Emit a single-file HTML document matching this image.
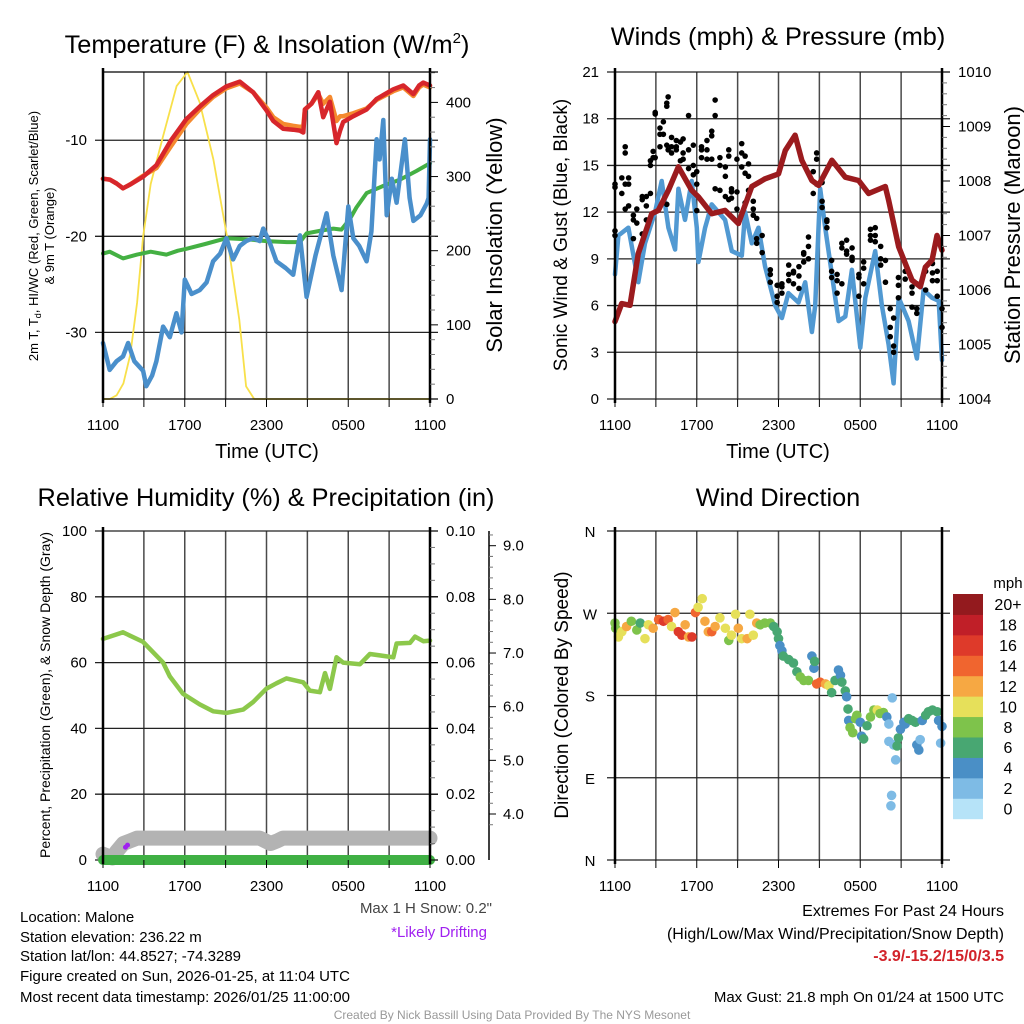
<!DOCTYPE html>
<html><head><meta charset="utf-8"><style>
html,body{margin:0;padding:0;background:#fff;}
svg{display:block;font-family:"Liberation Sans",Arial,sans-serif;}
</style></head><body>
<svg id="fig" width="1024" height="1024" viewBox="0 0 1024 1024" xmlns="http://www.w3.org/2000/svg">
<rect width="1024" height="1024" fill="#fff"/>
<g id="layer-grid"></g>
<g id="layer-data"></g>
<g id="layer-axes"></g>
<!-- Titles -->
<text x="267" y="53" font-size="25.3" text-anchor="middle">Temperature (F) &amp; Insolation (W/m<tspan font-size="15" dy="-10">2</tspan><tspan dy="10">)</tspan></text>
<text x="778" y="45" font-size="25.3" text-anchor="middle">Winds (mph) &amp; Pressure (mb)</text>
<text x="266" y="506" font-size="25.3" text-anchor="middle">Relative Humidity (%) &amp; Precipitation (in)</text>
<text x="778" y="506" font-size="25.3" text-anchor="middle">Wind Direction</text>
<!-- axis titles -->
<text x="267" y="458" font-size="20" text-anchor="middle">Time (UTC)</text>
<text x="778" y="458" font-size="20" text-anchor="middle">Time (UTC)</text>
<text transform="translate(38,236) rotate(-90)" font-size="13" text-anchor="middle">2m T, T<tspan font-size="9" dy="3">d</tspan><tspan dy="-3">, HI/WC (Red, Green, Scarlet/Blue)</tspan></text>
<text transform="translate(54,236) rotate(-90)" font-size="13" text-anchor="middle">&amp; 9m T (Orange)</text>
<text transform="translate(502,235) rotate(-90)" font-size="22" text-anchor="middle">Solar Insolation (Yellow)</text>
<text transform="translate(567,235) rotate(-90)" font-size="19" text-anchor="middle">Sonic Wind &amp; Gust (Blue, Black)</text>
<text transform="translate(1020,235) rotate(-90)" font-size="22" text-anchor="middle">Station Pressure (Maroon)</text>
<text transform="translate(50,695) rotate(-90)" font-size="14" text-anchor="middle">Percent, Precipitation (Green), &amp; Snow Depth (Gray)</text>
<text transform="translate(568,695) rotate(-90)" font-size="19" text-anchor="middle">Direction (Colored By Speed)</text>
<!-- notes -->
<text x="492" y="913" font-size="15" fill="#444" text-anchor="end">Max 1 H Snow: 0.2"</text>
<text x="487" y="937" font-size="15" fill="#a020f0" text-anchor="end">*Likely Drifting</text>
<g font-size="15">
<text x="20" y="922">Location: Malone</text>
<text x="20" y="942">Station elevation: 236.22 m</text>
<text x="20" y="961">Station lat/lon: 44.8527; -74.3289</text>
<text x="20" y="981">Figure created on Sun, 2026-01-25, at 11:04 UTC</text>
<text x="20" y="1002">Most recent data timestamp: 2026/01/25 11:00:00</text>
</g>
<g font-size="16" text-anchor="end">
<text x="1004" y="916">Extremes For Past 24 Hours</text>
<text x="1004" y="939">(High/Low/Max Wind/Precipitation/Snow Depth)</text>
<text x="1004" y="961" fill="#d2232a" font-weight="bold">-3.9/-15.2/15/0/3.5</text>
<text x="1004" y="1002" font-size="15">Max Gust: 21.8 mph On 01/24 at 1500 UTC</text>
</g>
<text x="512" y="1019" font-size="12" fill="#999" text-anchor="middle">Created By Nick Bassill Using Data Provided By The NYS Mesonet</text>
</svg>
<script>
// ---------- DATA ----------
const tickHourLabels = ["1100","1700","2300","0500","1100"];
// Temperature panel
const tempHours = [0,0.5,1.0,1.47,2.0,2.94,3.92,5.0,6.12,7.1,8.08,9.06,10.04,11.02,12.0,12.5,13.22,13.96,14.45,14.7,14.82,15.3,15.8,16.16,16.65,17.14,17.4,17.63,18.37,19.35,20.08,21.31,22.04,22.78,23.2,23.5,24];
const temp2m = [-14.0,-14.1,-14.5,-15.0,-14.6,-13.8,-12.6,-10.0,-7.8,-6.5,-5.3,-4.4,-3.9,-5.0,-6.9,-8.0,-8.8,-8.9,-9.0,-9.2,-6.8,-6.2,-5.0,-7.6,-6.0,-10.3,-9.0,-8.1,-7.5,-6.8,-5.7,-4.7,-4.3,-5.2,-4.3,-4.0,-4.3];
const temp9m = [-14.0,-14.1,-14.5,-15.0,-14.6,-13.7,-12.9,-10.6,-8.3,-6.8,-5.5,-4.6,-4.1,-5.0,-6.6,-7.6,-8.3,-8.5,-8.6,-8.5,-6.8,-6.2,-5.2,-6.2,-5.5,-8.0,-7.5,-7.5,-7.2,-6.7,-5.8,-4.9,-4.5,-5.4,-4.5,-4.2,-4.5];
const dewHours = [0,0.49,1.47,2.5,3.5,4.65,5.5,6.12,7.5,9.06,10.5,12.0,13.5,14.45,14.94,16.0,16.9,17.5,18.12,18.6,19.35,20.5,21.8,23.0,24];
const dewPoint = [-21.8,-21.6,-22.3,-21.9,-21.6,-21.9,-21.5,-21.3,-20.8,-20.2,-20.3,-20.5,-20.6,-20.6,-19.7,-19.4,-19.2,-19.3,-18.2,-17.0,-15.5,-14.8,-14.1,-13.2,-12.4];
const wcHours = [0,0.49,1.0,1.47,1.84,2.3,2.94,3.18,3.6,3.92,4.41,4.9,5.39,5.76,6.0,6.5,7.1,7.6,8.08,8.6,9.06,9.55,10.04,10.5,11.02,11.5,11.76,12.2,12.73,13.4,13.96,14.45,14.94,15.6,16.41,16.9,17.51,18.0,18.37,18.8,19.35,19.7,20.08,20.3,20.57,20.82,21.2,21.55,22.16,22.5,22.78,23.3,23.76,23.9,24];
const windChill = [-31.1,-33.9,-33.0,-32.5,-31.1,-33.0,-34.0,-35.6,-34.5,-33.0,-29.4,-30.5,-28.0,-30.0,-24.5,-26.0,-25.6,-24.8,-22.6,-21.8,-20.2,-22.4,-21.0,-20.5,-20.2,-20.5,-19.2,-20.5,-22.6,-23.3,-24.0,-19.9,-26.3,-22.0,-17.6,-22.0,-25.6,-16.9,-20.2,-21.0,-22.6,-19.5,-9.9,-12.0,-7.9,-17.8,-14.0,-16.5,-9.9,-16.0,-18.4,-17.8,-16.6,-16.0,-9.9];
const solarHours = [0,0.5,1.0,1.5,2.0,2.5,2.94,3.5,4.4,5.4,6.2,7.1,8.1,9.1,10.0,10.5,11.1,24];
const solar = [0,0,5,21,60,130,219,290,354,422,441,400,323,219,107,17,0,0];
const tempTicks = [-10,-20,-30];
const solarTicks = [0,100,200,300,400];
// Wind panel
const windHours = [0,0.25,0.98,1.71,2.2,2.94,3.43,3.92,4.41,4.65,5.14,5.63,6.0,6.12,6.61,7.1,8.08,8.57,9.31,9.55,10.04,10.53,11.02,11.76,12.25,12.73,13.47,13.96,14.45,14.69,15.06,15.43,15.92,16.41,16.9,17.39,18.0,18.37,19.1,19.59,20.08,20.45,20.82,21.55,22.16,22.65,23.27,23.76,24];
const windSpeed = [8,10.5,11,7.5,10,12,14,11,9.6,13.5,11.5,14,11,8.8,11,12.5,11.5,9.5,9.2,12,10,11,8.5,6.0,5.2,6.8,6.2,7.5,4.3,6,13.5,11,8,5,5.3,8.3,3.3,6.5,9.5,6,3.5,1,6.5,5,2.6,7,6.5,6.3,2.5];
const gustHours = [0,0.5,0.75,1.0,1.35,1.6,2.0,2.3,2.6,2.8,2.95,3.3,3.55,3.8,3.9,4.15,4.5,4.8,5.0,5.4,5.75,6.0,6.35,6.75,7.1,7.35,7.7,8.1,8.35,8.55,8.95,9.3,9.55,9.8,10.15,10.4,10.8,11.4,11.9,12.25,12.75,13.1,13.5,13.85,14.2,14.55,14.8,15.2,15.55,15.9,16.3,16.65,17.0,17.4,17.9,18.25,18.75,19.1,19.5,19.85,20.2,20.45,20.8,21.3,21.8,22.15,22.8,23.3,23.65,24.0];
const gustValues = [[10.5,10.8,13.8,13.6],[14.2,13.2],[16.2,15.8,13.8,12.2],[14.2,13.8,12.4],[11.8,11.5,10.3],[11.3,12.2],[10.6,12.8,13.0],[12.4,13.0,11.5],[15.0,13.2,15.3],[15.9,15.5],[18.3,18.4,15.5],[17.4,17.0,16.2],[17.8,17.0],[19.0,18.8,16.3,12.5],[19.4,16.0],[15.8,16.8,16.2],[16.6,16.2,16.0],[15.3,16.5],[15.4,16.7,15.8],[18.2,14.8,16.0],[16.3,15.0,14.4],[12.1,14.6,13.8],[16.2,15.5,16.0],[16.6,15.4,16.0],[16.9,17.2,15.4],[19.2,18.2,13.5],[15.0,15.5,13.4],[14.9,14.3,13.0],[15.6,16.0,12.8],[13.5,12.9,13.3],[13.3,15.4,12.2],[16.4,15.8,14.9],[15.6,12.6,14.5],[15.1,14.3,13.4],[12.7,11.8,12.2],[10.3,11.6,10.0],[9.4,10.5],[8.3,7.5,8.0],[7.3,6.6,6.2],[7.4,6.8,7.2],[8.6,8.0,7.6],[8.1,7.4,8.2],[7.9,7.1,8.5],[9.4,8.8,9.3],[9.8,9.0,10.4],[14.6,13.2],[15.4,15.8,13.8],[13.9,12.7,12.3],[11.4,11.0,11.5],[8.9,8.2,7.8],[7.6,8.0,6.8],[10.0,9.7,7.4],[9.3,9.5,10.2],[9.7,9.1,8.9],[8.0,7.8,6.6],[8.4,7.4,8.8],[10.9,10.5,10.2],[11.0,10.5,10.1],[9.8,8.6,9.0],[7.5,8.9],[5.8,4.6,4.0],[3.4,3.0,5.2],[7.3,7.8,6.5],[8.2,7.7],[6.8,5.9,7.2],[5.8,5.5,7.4],[7.0,8.2],[8.1,8.7,7.6],[8.2,7.6,6.6],[5.8,4.6]];
const presHours = [0,0.49,1.1,1.71,2.69,3.18,3.92,4.65,5.63,6.12,7.1,8.08,9.06,10.04,11.02,12.0,12.5,13.22,13.71,14.45,14.94,15.92,16.9,17.88,18.61,19.84,20.08,20.82,21.8,22.41,22.78,23.27,23.63,24];
const pressure = [1005.42,1005.75,1005.72,1006.67,1007.4,1007.46,1007.83,1008.26,1007.83,1007.71,1007.4,1007.46,1007.22,1007.9,1008.04,1008.13,1008.56,1008.84,1008.38,1008.01,1007.92,1008.38,1008.07,1008.01,1007.77,1007.9,1007.65,1006.79,1006.18,1006.06,1006.42,1006.55,1007.0,1006.73];
const windTicks = [0,3,6,9,12,15,18,21];
const presTicks = [1004,1005,1006,1007,1008,1009,1010];
// Humidity panel
const rhHours = [0,1.47,2.94,4.41,4.9,5.88,7.1,8.08,9.06,10.29,11.02,12,12.73,13.47,14.69,15.18,15.92,16.29,16.65,17.14,17.63,18.86,19.59,21.31,21.55,22.53,22.9,23.51,24];
const rh = [67.2,69.2,66.3,60,55.8,50.5,47.3,45.2,44.7,45.7,48,52.1,53.7,55.2,54,51.5,51,56.8,52,61.6,60,59.5,62.6,61.6,65.8,66,67.9,66.5,66.7];
const snowHours = [0,0.7,1.0,1.5,2.0,2.5,3.0,11.5,12.3,12.8,13.2,24];
const snowDepth = [3.25,3.18,3.3,3.45,3.5,3.55,3.55,3.55,3.45,3.5,3.55,3.55];
const precipHours = [0,24];
const precip = [0,0];
const driftHours = [1.65,1.8];
const driftDepth = [3.38,3.42];
const rhTicks = [0,20,40,60,80,100];
const precipTicks = ["0.00","0.02","0.04","0.06","0.08","0.10"];
const snowTicks = [4,5,6,7,8,9];
// Wind direction panel
const dirHours = [0,0.05,0.25,0.5,0.85,1.2,1.6,1.85,2.2,2.45,2.8,3.2,3.55,3.9,4.15,4.4,4.65,4.9,5.15,5.4,5.65,5.9,6.1,6.4,6.6,6.85,7.1,7.35,7.7,8.1,8.35,8.55,8.85,9.05,9.3,9.7,9.9,10.15,10.4,10.65,11.0,11.4,11.65,11.9,12.0,12.1,12.25,12.35,12.75,13.1,13.35,13.6,13.85,14.2,14.45,14.6,14.65,14.8,15.05,15.45,15.7,15.9,16.15,16.4,16.55,16.65,16.9,17.0,17.1,17.15,17.25,17.45,17.65,17.75,18.0,18.1,18.25,18.5,18.75,19.0,19.25,19.45,19.7,19.95,20.1,20.1,20.35,20.45,20.6,20.7,20.8,20.95,21.2,21.3,21.55,21.8,22.05,22.15,22.3,22.4,22.55,22.8,23.0,23.3,23.65,23.75,24,23.9,20.3,20.25];
const dirDeg = [259.3,253.6,244.1,249.8,255.5,261.2,251.7,259.3,242.2,257.4,253.6,263.1,261.2,263.1,255.5,270.8,249.8,246,257.4,244.1,244.1,270.8,276.5,286,261.2,249.8,249.8,255.5,265,253.6,240.3,246,268.9,253.6,242.2,242.2,268.9,246,259.3,257.4,259.3,259.3,255.5,249.8,242.2,234.6,228.9,223.1,219.3,215.5,206,200.3,196.5,196.5,223.1,209.8,217.4,192.7,194.6,192.7,190.8,183.1,196.5,207.9,202.2,194.6,185,178.6,165.2,152.7,145,139.3,154.6,158.4,150.7,135.5,132.5,146.9,156.5,164.1,164.1,160.3,161.4,156.5,148.8,129.8,177.4,126,109.6,124.8,133.6,143.1,150.7,148.8,154.6,152.7,150.7,126,120.3,131.7,152.7,158.4,162.2,164.1,162.2,152.7,146.2,127.9,70.7,59.3];
const dirSpeed = [7,8,10,9,12,7,7,6,10,9,12,14,15,14,10,12,15,15,12,11,15,13,9,10,12,12,13,11,10,10,8,10,10,11,10,12,10,10,12,7,7,8,6,6,6,4,4,6,6,6,6,8,8,8,4,4,6,13,13,12,10,6,6,4,4,6,6,4,6,4,8,8,8,8,4,3,6,6,8,8,10,8,8,4,2,2,1,2,2,6,6,4,4,4,6,6,6,3,3,2,4,6,6,6,6,4,4,2,2,2];
const dirTickLabels = ["N","E","S","W","N"];
const speedBins = ["0","2","4","6","8","10","12","14","16","18","20+"];
const binColors = ["#b6e3f8","#7ebbe5","#4a8fc6","#48a772","#7ec34b","#e6e05a","#f6a843","#f0652f","#de3a2a","#c01f28","#931a1e"];

// ---------- SCALES ----------
const P = {
  t:{x0:103,x1:430,y0:72,y1:399},
  w:{x0:615,x1:942,y0:72,y1:399},
  h:{x0:103,x1:430,y0:531,y1:860},
  d:{x0:615,x1:942,y0:531,y1:860}
};
const NS="http://www.w3.org/2000/svg";
const gGrid=document.getElementById('layer-grid');
const gData=document.getElementById('layer-data');
const gAx=document.getElementById('layer-axes');
function mk(parent,tag,attrs,txt){const e=document.createElementNS(NS,tag);for(const k in attrs)e.setAttribute(k,attrs[k]);if(txt!==undefined)e.textContent=txt;parent.appendChild(e);return e;}
function xs(p,h){return p.x0+(p.x1-p.x0)*h/24;}
function lin(d0,d1,r0,r1){return v=>r0+(v-d0)*(r1-r0)/(d1-d0);}
const yTemp=lin(-2.9,-36.93,P.t.y0,P.t.y1);
const ySolar=lin(0,441,P.t.y1,P.t.y0);
const yWind=lin(0,21,P.w.y1,P.w.y0);
const yPres=lin(1004,1010,P.w.y1,P.w.y0);
const yRH=lin(0,100,P.h.y1,P.h.y0);
const yPrecip=lin(0,0.1,P.h.y1,P.h.y0);
const ySnow=lin(4,9,814,545.7);
const yDir=lin(0,360,P.d.y1,P.d.y0);

// ---------- FRAMES ----------
function frame(p,name,hgridVals,yf){
  for(let i=0;i<=8;i++){const x=p.x0+(p.x1-p.x0)*i/8;
    const l=mk(gGrid,'line',{x1:x,x2:x,y1:p.y0,y2:p.y1,stroke:'#4a4a4a','stroke-width':1.5});
    
    
    const t=mk(gAx,'line',{x1:x,x2:x,y1:p.y1,y2:p.y1+8,stroke:'#000','stroke-width':1});
    
    
  }
  hgridVals.forEach(v=>{const y=yf(v);
    const l=mk(gGrid,'line',{x1:p.x0-8,x2:p.x1+8,y1:y,y2:y,stroke:'#222','stroke-width':1.3});
    
    
  });
  const b=mk(gAx,'line',{x1:p.x0,x2:p.x0,y1:p.y0-4,y2:p.y1+4,stroke:'#000','stroke-width':2.5});
  
  
  const r=mk(gAx,'line',{x1:p.x1,x2:p.x1,y1:p.y0-4,y2:p.y1+4,stroke:'#000','stroke-width':2.5});
  
  
  tickHourLabels.forEach((s,i)=>{
    const t=mk(gAx,'text',{x:xs(p,i*6),y:p.y1+31,'font-size':15,'text-anchor':'middle'},s);
    
    
  });
}
function leftLabels(p,name,vals,yf,fmt){vals.forEach(v=>{
  const t=mk(gAx,'text',{x:p.x0-16,y:yf(v)+5,'font-size':15,'text-anchor':'end'},fmt?fmt(v):String(v));
  
  });}
function rightTicks(p,name,vals,labels,yf,minorVals){
  vals.forEach((v,i)=>{const y=yf(v);
    const l=mk(gAx,'line',{x1:p.x1,x2:p.x1+8,y1:y,y2:y,stroke:'#000','stroke-width':1});
    
    
    const t=mk(gAx,'text',{x:p.x1+16,y:y+5,'font-size':15},labels[i]);
    
    });
  (minorVals||[]).forEach(v=>{const y=yf(v);
    const l=mk(gAx,'line',{x1:p.x1,x2:p.x1+5,y1:y,y2:y,stroke:'#777','stroke-width':1});
    
    });
}
function poly(p,hours,vals,yf,color,w,name){
  const pts=hours.map((h,i)=>xs(p,h).toFixed(1)+','+yf(vals[i]).toFixed(1)).join(' ');
  const e=mk(gData,'polyline',{points:pts,fill:'none',stroke:color,'stroke-width':w,'stroke-linejoin':'round','stroke-linecap':'round'});
  
  
  return e;
}

// Panel 1
frame(P.t,'temp',tempTicks,yTemp);
leftLabels(P.t,'temp',tempTicks,yTemp);
const solMinor=[];for(let v=20;v<=440;v+=20)if(v%100)solMinor.push(v);
rightTicks(P.t,'solar',solarTicks,solarTicks.map(String),ySolar,solMinor);
const tTop=mk(gAx,'line',{x1:P.t.x0,x2:P.t.x1+8,y1:P.t.y0,y2:P.t.y0,stroke:'#000','stroke-width':1.3});


const tBot=mk(gAx,'line',{x1:P.t.x0,x2:P.t.x1+8,y1:P.t.y1,y2:P.t.y1,stroke:'#000','stroke-width':1.3});


poly(P.t,solarHours,solar,ySolar,'#f8e04a',1.8,'solar-insolation-line');
poly(P.t,tempHours,temp9m,yTemp,'#f58a2f',4.5,'temp-9m-line');
poly(P.t,tempHours,temp2m,yTemp,'#d7262b',4.5,'temp-2m-line');
poly(P.t,dewHours,dewPoint,yTemp,'#44b043',4,'dewpoint-line');
poly(P.t,wcHours,windChill,yTemp,'#4a8fcb',4.5,'wind-chill-line');

// Panel 2
frame(P.w,'wind',windTicks,yWind);
leftLabels(P.w,'wind',windTicks,yWind);
const presMinor=[];for(let v=1004.2;v<1010;v+=0.2){if(Math.abs(v-Math.round(v))>0.05)presMinor.push(v);}
rightTicks(P.w,'pressure',presTicks,presTicks.map(String),yPres,presMinor);
poly(P.w,windHours,windSpeed,yWind,'#5199d2',4.5,'sonic-wind-line');
gustHours.forEach((h,i)=>gustValues[i].forEach(v=>{
  const c=mk(gData,'circle',{cx:xs(P.w,h),cy:yWind(v),r:2.8,fill:'#000'});
  
  
}));
poly(P.w,presHours,pressure,yPres,'#9b1b1e',5.5,'pressure-line');

// Panel 3
frame(P.h,'humidity',rhTicks,yRH);
leftLabels(P.h,'humidity',rhTicks,yRH);
const precMinor=[];for(let i=1;i<20;i++)if(i%4)precMinor.push(i*0.005);
rightTicks(P.h,'precip',precipTicks.map(Number),precipTicks,yPrecip,precMinor);
const snowAx=mk(gAx,'line',{x1:489,x2:489,y1:P.h.y0,y2:P.h.y1,stroke:'#000','stroke-width':1.5});


snowTicks.forEach(v=>{const y=ySnow(v);
  const l=mk(gAx,'line',{x1:489,x2:496,y1:y,y2:y,stroke:'#000','stroke-width':1});
  
  
  const t=mk(gAx,'text',{x:503,y:y+5,'font-size':15},v.toFixed(1));
  
  
  [0.2,0.4,0.6,0.8].forEach(f=>{const yy=ySnow(v+f);if(yy>P.h.y0){
    const m=mk(gAx,'line',{x1:489,x2:493,y1:yy,y2:yy,stroke:'#777','stroke-width':1});
    
    }});
  const yb=ySnow(v-0.2);const m2=mk(gAx,'line',{x1:489,x2:493,y1:yb,y2:yb,stroke:'#777','stroke-width':1});
  
  
});
poly(P.h,snowHours,snowDepth,ySnow,'#b3b3b3',15,'snow-depth-line');
poly(P.h,precipHours,precip,yPrecip,'#3fb044',10,'precipitation-line');
poly(P.h,rhHours,rh,yRH,'#8cc84b',4.5,'relative-humidity-line');
driftHours.forEach((h,i)=>{
  const c=mk(gData,'circle',{cx:xs(P.h,h),cy:ySnow(driftDepth[i]),r:2.5,fill:'#a020f0'});
  
  
});

// Panel 4
frame(P.d,'direction',[0,90,180,270,360],yDir);
dirTickLabels.forEach((s,i)=>{
  const t=mk(gAx,'text',{x:P.d.x0-25,y:yDir(i*90)+6,'font-size':15,'text-anchor':'middle'},s);
  
  
});
dirHours.forEach((h,i)=>{
  const b=Math.min(10,Math.round(dirSpeed[i]/2));
  const c=mk(gData,'circle',{cx:xs(P.d,h),cy:yDir(dirDeg[i]),r:4.8,fill:binColors[b]});
  
  
});
// colorbar
const cbTop=594, cbH=224.7/11;
speedBins.forEach((s,i)=>{
  const y=cbTop+(10-i)*cbH;
  const r=mk(gAx,'rect',{x:953,y:y,width:30,height:cbH+0.5,fill:binColors[i]});
  
  
  const t=mk(gAx,'text',{x:1008,y:y+cbH/2+6,'font-size':16,'text-anchor':'middle'},s);
  
  
});
const mphT=mk(gAx,'text',{x:1008,y:588,'font-size':15,'text-anchor':'middle'},'mph');


</script>
</body></html>
